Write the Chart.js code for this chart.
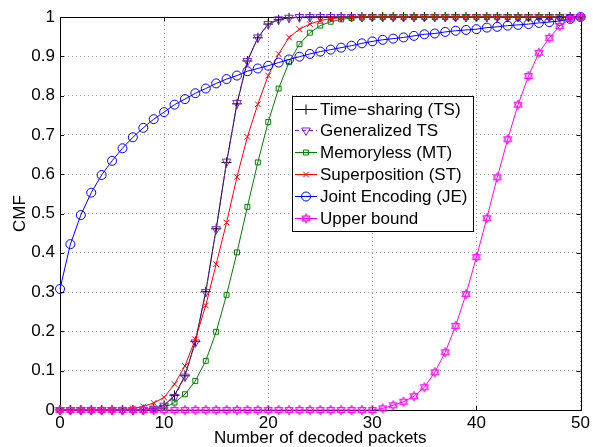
<!DOCTYPE html>
<html>
<head>
<meta charset="utf-8">
<script src="https://cdn.jsdelivr.net/npm/chart.js@4/dist/chart.umd.min.js"></script>
<style>
  body { margin: 0; background: #fff; }
  #wrap { width: 593px; height: 447px; position: relative; }
</style>
</head>
<body>
<div id="wrap"><canvas id="cmf"></canvas></div>
<script>
// number of decoded packets
const packets = [0, 1, 2, 3, 4, 5, 6, 7, 8, 9, 10, 11, 12, 13, 14, 15, 16, 17, 18, 19, 20,
    21, 22, 23, 24, 25, 26, 27, 28, 29, 30, 31, 32, 33, 34, 35, 36, 37, 38, 39, 40,
    41, 42, 43, 44, 45, 46, 47, 48, 49, 50]

const timeSharing = [0, 0, 0, 0, 0, 0, 0, 0, 0.001, 0.003, 0.012, 0.037, 0.087, 0.174, 0.301, 0.461, 0.630, 0.779, 0.888, 0.947, 0.982,
    0.993, 0.998, 0.999, 1, 1, 1, 1, 1, 1, 1, 1, 1, 1, 1, 1, 1, 1, 1, 1, 1,
    1, 1, 1, 1, 1, 1, 1, 1, 1, 1]

const generalizedTS = [0, 0, 0, 0, 0, 0, 0, 0, 0.001, 0.003, 0.011, 0.033, 0.085, 0.172, 0.300, 0.460, 0.632, 0.781, 0.888, 0.948, 0.982,
    0.994, 0.998, 1, 1, 1, 1, 1, 1, 1, 1, 1, 1, 1, 1, 1, 1, 1, 1, 1, 1,
    1, 1, 1, 1, 1, 1, 1, 1, 1, 1]

const memoryless = [0, 0, 0, 0, 0, 0, 0, 0, 0, 0.001, 0.005, 0.019, 0.040, 0.074, 0.125, 0.199, 0.293, 0.401, 0.517, 0.630, 0.733,
    0.818, 0.885, 0.931, 0.960, 0.978, 0.988, 0.994, 0.997, 0.999, 1, 1, 1, 1, 1, 1, 1, 1, 1, 1, 1,
    1, 1, 1, 1, 1, 1, 1, 1, 1, 1]

const superposition = [0, 0, 0, 0, 0, 0, 0.001, 0.004, 0.009, 0.018, 0.032, 0.066, 0.112, 0.180, 0.266, 0.371, 0.477, 0.593, 0.695, 0.778, 0.851,
    0.906, 0.948, 0.969, 0.982, 0.991, 0.996, 0.998, 0.999, 1, 1, 1, 1, 1, 1, 1, 1, 1, 1, 1, 1,
    1, 1, 1, 1, 1, 1, 1, 1, 1, 1]

const jointEncoding = [0.308, 0.422, 0.496, 0.553, 0.598, 0.634, 0.666, 0.694, 0.718, 0.740, 0.758, 0.777, 0.791, 0.806, 0.818, 0.831, 0.842, 0.851, 0.862, 0.869, 0.876,
    0.884, 0.892, 0.899, 0.906, 0.912, 0.917, 0.922, 0.927, 0.933, 0.938, 0.942, 0.945, 0.948, 0.952, 0.956, 0.958, 0.962, 0.965, 0.967, 0.969,
    0.973, 0.975, 0.978, 0.980, 0.982, 0.985, 0.987, 0.990, 0.995, 1.0]

const upperBound = [0, 0, 0, 0, 0, 0, 0, 0, 0, 0, 0, 0, 0, 0, 0, 0, 0, 0, 0, 0, 0,
    0, 0, 0, 0, 0, 0, 0, 0, 0, 0, 0.004, 0.012, 0.021, 0.035, 0.058, 0.096, 0.147, 0.214, 0.295, 0.389,
    0.488, 0.592, 0.689, 0.777, 0.850, 0.909, 0.947, 0.977, 0.995, 1.0]

const seriesNames = ["Time\u2212sharing (TS)", "Generalized TS", "Memoryless (MT)", "Superposition (ST)", "Joint Encoding (JE)", "Upper bound"]

const FONT = "Liberation Sans, Arial, Helvetica, sans-serif"

// hexagram marker for the upper bound
function hexagram(color) {
    let c = document.createElement("canvas")
    c.width = 12
    c.height = 12
    let g = c.getContext("2d")
    g.strokeStyle = color
    g.lineWidth = 1
    let r = 4.8
    for (let k = 0; k < 2; k++) {
        g.beginPath()
        for (let i = 0; i < 3; i++) {
            let a = -Math.PI / 2 + k * Math.PI + i * 2 * Math.PI / 3
            let px = 6 + r * Math.cos(a)
            let py = 6 + r * Math.sin(a)
            if (i == 0) g.moveTo(px, py)
            else g.lineTo(px, py)
        }
        g.closePath()
        g.stroke()
    }
    return c
}

const star = hexagram("#ff00ff")

const styles = [
    { color: "#000000", point: "cross", radius: 5, dash: [], rot: 0 },
    { color: "#8020e0", point: "triangle", radius: 5, dash: [4, 3], rot: 180 },
    { color: "#008000", point: "rect", radius: 3.5, dash: [], rot: 0 },
    { color: "#ff0000", point: "crossRot", radius: 4, dash: [], rot: 0 },
    { color: "#0000ff", point: "circle", radius: 4.5, dash: [], rot: 0 },
    { color: "#ff00ff", point: star, radius: 5, dash: [], rot: 0 }
]

const values = [timeSharing, generalizedTS, memoryless, superposition, jointEncoding, upperBound]

let datasets = []
for (let i = 0; i < values.length; i++) {
    datasets.push({
        label: seriesNames[i],
        data: values[i],
        borderColor: styles[i].color,
        backgroundColor: "rgba(0,0,0,0)",
        borderWidth: 1,
        borderDash: styles[i].dash,
        pointStyle: styles[i].point,
        pointRadius: styles[i].radius,
        pointRotation: styles[i].rot,
        pointBorderColor: styles[i].color,
        pointBackgroundColor: "rgba(0,0,0,0)",
        pointBorderWidth: 1,
        tension: 0,
        clip: false,
        order: values.length - i
    })
}

// black axes box with inward ticks, like matlab
const boxPlugin = {
    id: "box",
    beforeDatasetsDraw(chart) {
        let ctx = chart.ctx
        let a = chart.chartArea
        ctx.save()
        ctx.strokeStyle = "#000"
        ctx.lineWidth = 1
        ctx.strokeRect(Math.round(a.left) + 0.5, Math.round(a.top) + 0.5, Math.round(a.right - a.left), Math.round(a.bottom - a.top))
        ctx.beginPath()
        chart.scales.x.ticks.forEach(t => {
            let px = Math.round(chart.scales.x.getPixelForValue(t.value)) + 0.5
            ctx.moveTo(px, a.bottom)
            ctx.lineTo(px, a.bottom - 4)
            ctx.moveTo(px, a.top)
            ctx.lineTo(px, a.top + 4)
        })
        chart.scales.y.ticks.forEach(t => {
            let py = Math.round(chart.scales.y.getPixelForValue(t.value)) + 0.5
            ctx.moveTo(a.left, py)
            ctx.lineTo(a.left + 4, py)
            ctx.moveTo(a.right, py)
            ctx.lineTo(a.right - 4, py)
        })
        ctx.stroke()
        ctx.restore()
    }
}

const legendPlugin = {
    id: "boxLegend",
    afterDatasetsDraw(chart) {
        let ctx = chart.ctx
        let left = 292, top = 96, right = 473, bottom = 231
        ctx.save()
        ctx.fillStyle = "#fff"
        ctx.fillRect(left, top, right - left, bottom - top)
        ctx.strokeStyle = "#000"
        ctx.lineWidth = 1
        ctx.strokeRect(left + 0.5, top + 0.5, right - left, bottom - top)
        ctx.font = "17px " + FONT
        ctx.textBaseline = "middle"
        ctx.textAlign = "left"
        for (let i = 0; i < seriesNames.length; i++) {
            let y = Math.round(108.5 + i * 21.8) + 0.5
            let s = styles[i]
            ctx.strokeStyle = s.color
            ctx.lineWidth = 1
            ctx.setLineDash(s.dash)
            ctx.beginPath()
            ctx.moveTo(295, y)
            ctx.lineTo(317, y)
            ctx.stroke()
            ctx.setLineDash([])
            ctx.fillStyle = "rgba(0,0,0,0)"
            ctx.strokeStyle = s.color
            Chart.helpers.drawPoint(ctx, {
                pointStyle: s.point,
                radius: s.radius,
                rotation: s.rot,
                borderWidth: 1
            }, 306, y)
            ctx.fillStyle = "#000"
            ctx.fillText(seriesNames[i], 320, y + 1)
        }
        ctx.restore()
    }
}

Chart.defaults.font.family = FONT
Chart.defaults.font.size = 17
Chart.defaults.color = "#000"

let chart = new Chart(document.getElementById("cmf").getContext("2d"), {
    type: "line",
    data: {
        labels: packets,
        datasets: datasets
    },
    options: {
        responsive: true,
        maintainAspectRatio: false,
        animation: false,
        events: [],
        layout: { padding: { left: 0, right: 12, top: 17, bottom: 0 } },
        plugins: {
            legend: { display: false },
            tooltip: { enabled: false }
        },
        scales: {
            x: {
                type: "linear",
                min: 0,
                max: 50,
                afterFit: s => { s.height = 37 },
                ticks: { stepSize: 10, padding: 3, maxRotation: 0 },
                grid: { color: "#a0a0a0", lineWidth: 1, drawTicks: false },
                border: { display: false, dash: [1, 3] },
                title: { display: true, text: "Number of decoded packets", font: { size: 17, lineHeight: 1 }, padding: { top: 0, bottom: 0 } }
            },
            y: {
                min: 0,
                max: 1,
                afterFit: s => { s.width = 60 },
                ticks: { stepSize: 0.1, padding: 5, callback: v => String(parseFloat(v.toFixed(1))) },
                grid: { color: "#a0a0a0", lineWidth: 1, drawTicks: false },
                border: { display: false, dash: [1, 3] },
                title: { display: true, text: "CMF", font: { size: 17, lineHeight: 1 }, padding: { top: 12, bottom: 0 } }
            }
        }
    },
    plugins: [boxPlugin, legendPlugin]
})
</script>
</body>
</html>
